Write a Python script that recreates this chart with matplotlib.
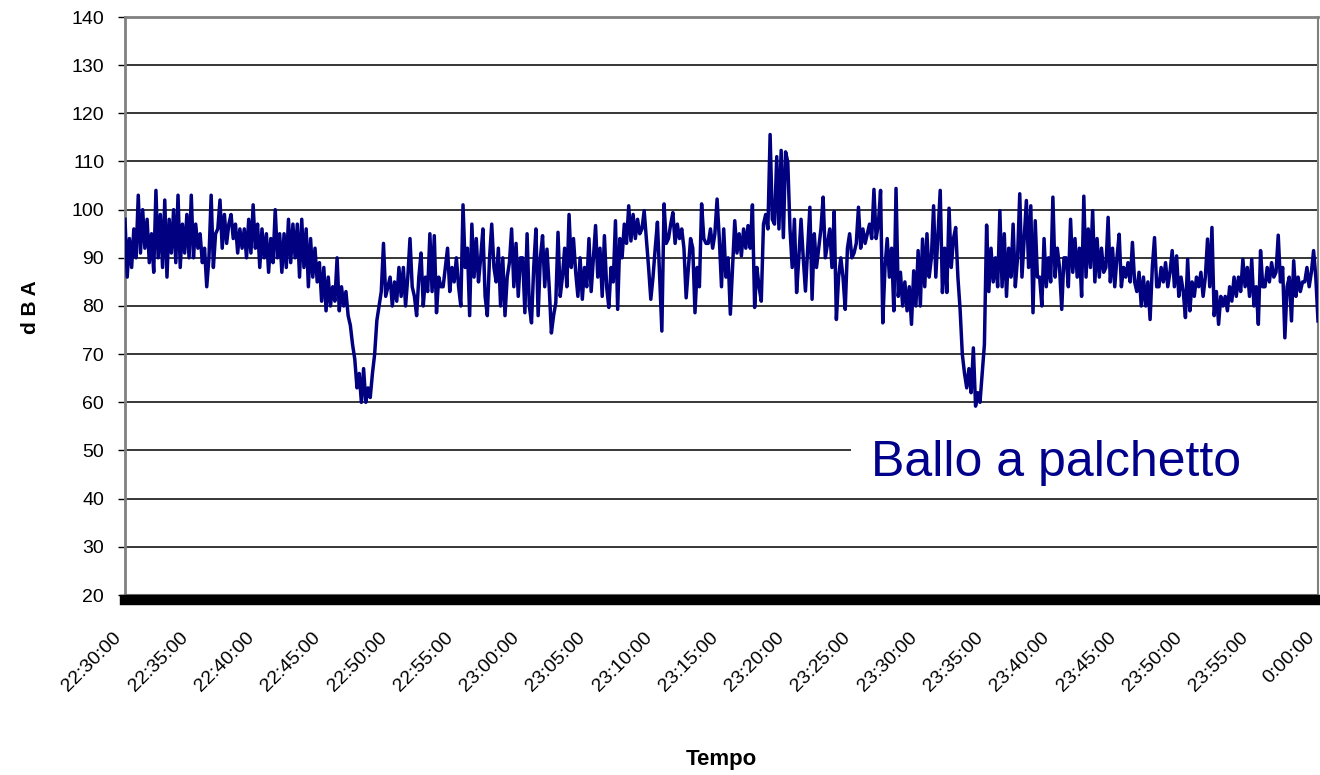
import matplotlib
matplotlib.use("Agg")
import matplotlib.pyplot as plt
from matplotlib.patches import Rectangle
import numpy as np

plt.rcParams['font.family'] = ['Liberation Sans', 'DejaVu Sans']

# sound level, 6 readings per minute (every 10 s) from 22:30:00 to 0:00:00
dba = [
    98, 86, 94, 88, 96, 90,            # 22:30
    103, 91, 100, 92, 98, 89,
    95, 87, 104, 90, 99, 88,
    102, 86, 98, 91, 100, 89,
    103, 88, 97, 91, 99, 90,
    103, 90, 97, 92, 95, 89,           # 22:35
    92, 84, 90, 103, 88, 95,
    96, 102, 92, 99, 93, 97,
    99, 94, 97, 91, 96, 92,
    96, 90, 98, 91, 101, 92,
    97, 88, 96, 90, 95, 87,            # 22:40
    94, 89, 100, 90, 95, 87,
    95, 88, 98, 89, 97, 90,
    97, 86, 98, 88, 96, 84,
    94, 86, 92, 85, 89, 81,
    88, 79, 86, 80, 84, 81,            # 22:45
    90, 79, 84, 80, 83, 78,
    76, 72, 69, 63, 66, 60,
    67, 60, 63, 61, 66, 70,
    77, 80, 83, 93, 82, 84,
    86, 80, 85, 81, 88, 82,            # 22:50
    88, 80, 86, 94, 84, 82,
    78, 86, 91, 80, 86, 83,
    95, 83, 94.6, 78.6, 86, 84,
    84, 88, 92, 83, 88, 85,
    90, 84, 80, 101, 88, 92,           # 22:55
    78, 97, 86, 94, 85, 90,
    96, 82, 78, 90, 97, 88,
    85, 92, 80, 90, 78, 86,
    89, 96, 84, 93, 82, 90,
    90, 78.6, 95, 80, 76.5, 88,        # 23:00
    96, 78, 90, 94.6, 84, 91.8,
    84, 74.4, 78, 80.7, 95.3, 82,
    86, 92, 84, 99, 88, 94,
    87, 82, 90, 81.4, 88, 84,
    94, 83, 90, 96.7, 86, 92,          # 23:05
    82, 94.6, 84, 79.7, 88, 85,
    97.7, 79.3, 94, 90, 97, 93,
    100.8, 93.5, 99, 94, 98, 95,
    96, 99.8, 94, 88, 81.4, 86,
    92, 97.4, 86, 74.8, 101.2, 93,     # 23:10
    94, 97, 99.4, 93, 97, 94,
    96, 92, 81.7, 88, 94, 92,
    78.6, 88, 84, 101.2, 94, 93,
    93, 96, 92, 95, 102.2, 94,
    84, 96, 86, 90, 78.3, 88,          # 23:15
    97.7, 91, 95, 90.4, 96, 92,
    96.7, 92, 101, 79.7, 88, 84,
    81, 97, 99, 96, 115.6, 98,
    97, 111, 96, 112.3, 94.2, 112,
    109.9, 96, 88, 98, 82.8, 90,       # 23:20
    98, 90, 83.1, 92, 100.5, 81.4,
    95, 88, 92, 96, 102.6, 90,
    93, 96, 88, 99.6, 77.2, 86,
    90, 86, 79.3, 92, 95, 90,
    91, 93, 100.5, 92, 96, 93,         # 23:25
    95, 97, 94, 104.2, 94, 97,
    104, 76.5, 88, 94, 86, 92,
    79, 104.4, 82, 87, 80, 85,
    79, 84, 76.2, 87.3, 80, 91.5,
    80, 93.9, 84, 95, 86, 90,          # 23:30
    100.8, 86, 95, 104, 82.8, 92,
    82.8, 100.3, 88, 94, 96.3, 86,
    79.3, 70, 66, 63, 67, 62,
    71.3, 59.2, 62, 60, 66, 72,
    96.8, 83, 92, 85, 90, 84,          # 23:35
    99.8, 84, 95, 82, 92, 86,
    97, 84, 90, 103.3, 86, 94,
    101.9, 88, 100.8, 78.6, 97.7, 86,
    86, 80, 94, 84, 90, 85,
    102.6, 86, 92, 88, 79.3, 90,       # 23:40
    90, 84, 98, 87, 94, 86,
    92, 82, 102.8, 86, 96, 88,
    99.8, 85, 94, 86, 92, 87,
    88, 98.4, 85, 92, 84, 90,
    94.9, 84, 88, 86, 89, 85,          # 23:45
    93.2, 85, 83, 87, 80, 86,
    80, 85, 77.2, 88, 94.2, 84,
    84, 88, 85, 89, 84, 87,
    91.5, 84, 90.4, 82, 86, 83,
    77.6, 89.7, 79, 85, 82, 86,        # 23:50
    84, 87, 82, 86, 93.9, 84,
    96.3, 78, 83, 76.2, 82, 80,
    82, 79, 84, 81, 86, 82,
    86, 83, 89.7, 84, 88, 82,
    89.7, 80, 84, 76.2, 91.5, 84,      # 23:55
    84, 88, 85, 89, 86, 87,
    94.7, 85, 88, 73.4, 84, 86,
    76.9, 89.4, 82, 86, 83, 85,
    85, 88, 84, 87, 91.5, 86,
    76.9,                              # 0:00
]

tick_labels = ["22:30:00", "22:35:00", "22:40:00", "22:45:00", "22:50:00",
               "22:55:00", "23:00:00", "23:05:00", "23:10:00", "23:15:00",
               "23:20:00", "23:25:00", "23:30:00", "23:35:00", "23:40:00",
               "23:45:00", "23:50:00", "23:55:00", "0:00:00"]

minutes = np.arange(len(dba)) / 6.0

fig = plt.figure(figsize=(13.2, 7.75), dpi=100)
ax = fig.add_axes([125 / 1320, 1 - 595 / 775, 1193 / 1320, 578 / 775])

# spines first: moving a spine rebuilds the ticks
ax.spines["top"].set_color("#808080")
ax.spines["top"].set_linewidth(2)
ax.spines["right"].set_color("#808080")
ax.spines["right"].set_linewidth(1.5)
ax.spines["left"].set_color("#808080")
ax.spines["left"].set_linewidth(2)
ax.spines["bottom"].set_color("black")
ax.spines["bottom"].set_linewidth(7.5)
ax.spines["bottom"].set_position(("outward", 3.5))

for level in range(30, 140, 10):
    ax.axhline(level, color="black", lw=1.1, zorder=1)
ax.axhline(20, color="#808080", lw=1.5, zorder=1, clip_on=False)

# white box behind the caption hides part of the 50 dB line
ax.add_patch(Rectangle((54.75, 40.3), 35.25, 18.5, facecolor="white",
                       edgecolor="none", zorder=2))

ax.plot(minutes, dba, color="#000080", lw=2.5, zorder=3)

ax.text(56.3, 47.5, "Ballo a palchetto", color="#00008B", fontsize=36,
        va="center", ha="left", zorder=4)

ax.set_xlim(0, 90)
ax.set_ylim(20, 140)
ax.set_yticks(range(20, 141, 10))
ax.set_xticks(range(0, 91, 5))
ax.tick_params(axis="y", labelsize=14, length=5, width=1, pad=10)
ax.tick_params(axis="x", labelsize=14, length=0, pad=21)
ax.set_xticklabels(tick_labels, rotation=45, ha="right", va="top")

fig.text(30 / 1320, 1 - 307 / 775, "d B A", rotation=90, fontsize=15,
         fontweight="bold", ha="center", va="center")
fig.text(721 / 1320, 1 - 760 / 775, "Tempo", fontsize=16,
         fontweight="bold", ha="center", va="center")

fig.savefig("out.png", dpi=100)
